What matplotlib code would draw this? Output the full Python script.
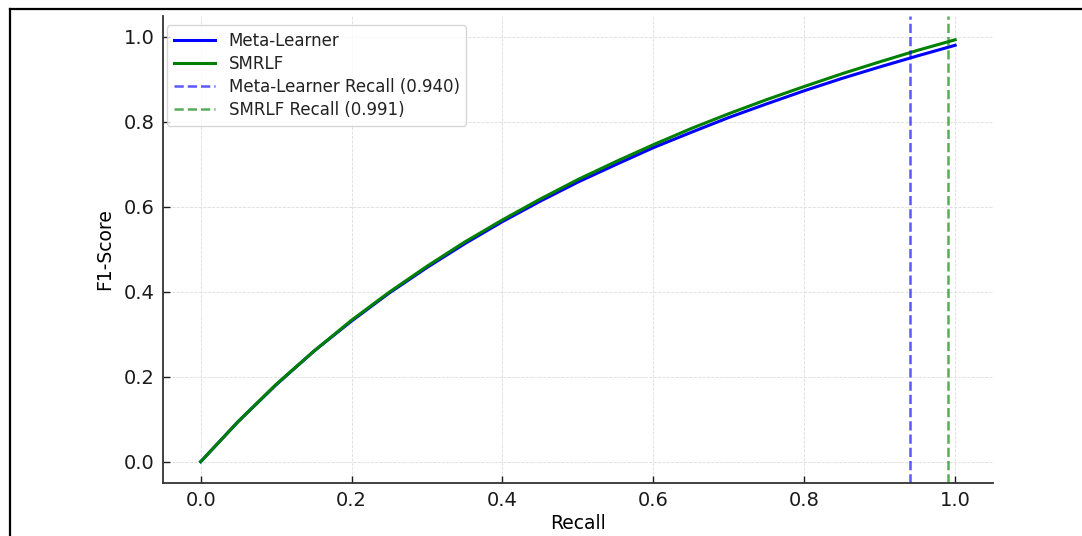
import matplotlib
matplotlib.use("Agg")
import matplotlib.pyplot as plt
from matplotlib.lines import Line2D

# values
recall = [0.0, 0.05, 0.1, 0.15, 0.2, 0.25, 0.3, 0.35, 0.4, 0.45, 0.5,
          0.55, 0.6, 0.65, 0.7, 0.75, 0.8, 0.85, 0.9, 0.95, 1.0]
f1_meta = [0.0, 0.095, 0.181, 0.260, 0.331, 0.397, 0.457, 0.513, 0.565, 0.613, 0.658,
           0.699, 0.739, 0.775, 0.810, 0.842, 0.873, 0.902, 0.929, 0.955, 0.980]
f1_smrlf = [0.0, 0.095, 0.182, 0.260, 0.333, 0.399, 0.460, 0.517, 0.569, 0.618, 0.664,
            0.706, 0.746, 0.784, 0.819, 0.852, 0.883, 0.913, 0.941, 0.968, 0.993]
meta_recall = 0.940
smrlf_recall = 0.991

plt.rcParams['font.family'] = 'DejaVu Sans'

fig = plt.figure(figsize=(10.82, 5.36), dpi=100)
ax = fig.add_axes([0.1506, 0.099, 0.767, 0.872])

ax.plot(recall, f1_meta, color='blue', lw=2.2, label='Meta-Learner')
ax.plot(recall, f1_smrlf, color='green', lw=2.2, label='SMRLF')
ax.axvline(meta_recall, color='blue', ls='--', lw=1.8, alpha=0.65,
           label=f'Meta-Learner Recall ({meta_recall:.3f})')
ax.axvline(smrlf_recall, color='green', ls='--', lw=1.8, alpha=0.65,
           label=f'SMRLF Recall ({smrlf_recall:.3f})')

ax.set_xlim(-0.05, 1.05)
ax.set_ylim(-0.05, 1.05)
ax.set_xticks([0.0, 0.2, 0.4, 0.6, 0.8, 1.0])
ax.set_yticks([0.0, 0.2, 0.4, 0.6, 0.8, 1.0])
ax.set_xlabel('Recall', fontsize=13.5, labelpad=3)
ax.set_ylabel('F1-Score', fontsize=13.5, labelpad=7)
ax.tick_params(direction='in', length=5, width=1, labelsize=14, pad=6, colors='#1a1a1a')

ax.grid(True, ls='--', lw=0.6, color='#dddddd')
ax.set_axisbelow(True)
for side in ['top', 'right']:
    ax.spines[side].set_visible(False)
for side in ['left', 'bottom']:
    ax.spines[side].set_linewidth(1.3)
    ax.spines[side].set_color('#333333')

leg = ax.legend(loc='upper left', bbox_to_anchor=(0.005, 0.979), borderaxespad=0,
                fontsize=12, handlelength=2.5, labelspacing=0.3, fancybox=True)
leg.get_frame().set_edgecolor('#cccccc')
for t in leg.get_texts():
    t.set_color('#222222')

# black frame round the picture (left and top edges visible)
fig.add_artist(Line2D([10 / 1082, 10 / 1082], [0, 527 / 536], color='black', lw=1.6,
                      transform=fig.transFigure))
fig.add_artist(Line2D([10 / 1082, 1], [527 / 536, 527 / 536], color='black', lw=1.6,
                      transform=fig.transFigure))

fig.savefig('out.png', dpi=100)
